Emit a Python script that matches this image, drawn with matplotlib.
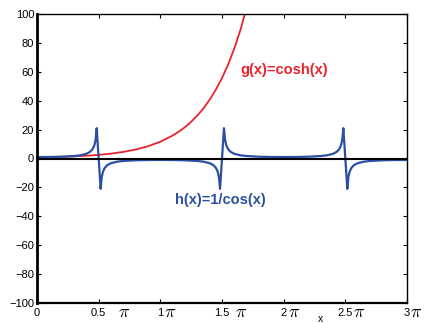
import matplotlib
matplotlib.use('Agg')
import matplotlib.pyplot as plt
import numpy as np

plt.rcParams['font.family'] = ['Liberation Sans', 'DejaVu Sans']
plt.rcParams['mathtext.fontset'] = 'cm'

# x positions in units of pi
h_x = [0, 0.1, 0.2, 0.3, 0.35, 0.4, 0.43, 0.45, 0.465, 0.475, 0.484,
       0.516, 0.525, 0.535, 0.55, 0.57, 0.6, 0.65, 0.7, 0.8, 0.9, 1.0,
       1.1, 1.2, 1.3, 1.35, 1.4, 1.43, 1.45, 1.465, 1.475, 1.484,
       1.516, 1.525, 1.535, 1.55, 1.57, 1.6, 1.65, 1.7, 1.8, 1.9, 2.0,
       2.1, 2.2, 2.3, 2.35, 2.4, 2.43, 2.45, 2.465, 2.475, 2.484,
       2.516, 2.525, 2.535, 2.55, 2.57, 2.6, 2.65, 2.7, 2.8, 2.9, 3.0]
h_y = [1, 1.05, 1.24, 1.7, 2.2, 3.24, 4.6, 6.4, 9.1, 12.8, 21,
       -21, -12.8, -9.1, -6.4, -4.6, -3.24, -2.2, -1.7, -1.24, -1.05, -1,
       -1.05, -1.24, -1.7, -2.2, -3.24, -4.6, -6.4, -9.1, -12.8, -21,
       21, 12.8, 9.1, 6.4, 4.6, 3.24, 2.2, 1.7, 1.24, 1.05, 1,
       1.05, 1.24, 1.7, 2.2, 3.24, 4.6, 6.4, 9.1, 12.8, 21,
       -21, -12.8, -9.1, -6.4, -4.6, -3.24, -2.2, -1.7, -1.24, -1.05, -1]

g_x = [0, 0.1, 0.2, 0.3, 0.4, 0.5, 0.6, 0.7, 0.8, 0.9, 1.0, 1.1, 1.15,
       1.2, 1.25, 1.3, 1.35, 1.4, 1.45, 1.5, 1.55, 1.6, 1.65, 1.7]
g_y = [1, 1.05, 1.2, 1.48, 1.9, 2.51, 3.37, 4.57, 6.21, 8.47, 11.6, 15.9, 18.6,
       21.7, 25.4, 29.7, 34.7, 40.7, 47.6, 55.7, 65.1, 76.2, 89.2, 104.4]

tick_vals = [0, 0.5, 1, 1.5, 2, 2.5, 3]
tick_nums = ['0', '0.5', '1', '1.5', '2', '2.5', '3']
pi_gap = [None, 18, 3, 12, 3, 7, 2]  # pixels from tick to the pi sign

red = '#e8242c'
blue = '#2b4fa3'

fig = plt.figure(figsize=(4.24, 3.23), dpi=100)
ax = fig.add_axes([37 / 424, 1 - 303 / 323, 370 / 424, 289 / 323])

ax.plot(np.array(g_x) * np.pi, g_y, color=red, lw=1.3)
ax.plot(np.array(h_x) * np.pi, h_y, color=blue, lw=1.6)
ax.axhline(0, color='black', lw=1.5)

ax.set_xlim(0, 3 * np.pi)
ax.set_ylim(-100, 100)
ax.set_yticks(range(-100, 101, 20))
ax.set_xticks(np.array(tick_vals) * np.pi)
ax.set_xticklabels([''] * len(tick_vals))
ax.tick_params(direction='in', top=True, right=True, labelsize=8, length=3, pad=2)
for s in ax.spines.values():
    s.set_linewidth(1.0)
ax.spines['left'].set_linewidth(2.0)
ax.spines['bottom'].set_linewidth(1.6)

# x tick labels: number plus a larger pi sign
for v, n, gap in zip(tick_vals, tick_nums, pi_gap):
    xpix = 37 + v / 3 * 370
    fig.text(xpix / 424, 1 - 316 / 323, n, ha='center', va='baseline', fontsize=8)
    if gap is not None:
        fig.text((xpix + gap + 1) / 424, 1 - 317 / 323, r'$\pi$',
                 ha='left', va='baseline', fontsize=13)

fig.text(320 / 424, 1 - 321.5 / 323, 'x', ha='center', va='baseline', fontsize=7.5)

ax.text(1.646 * np.pi, 61, 'g(x)=cosh(x)', color=red, fontsize=10.5,
        fontweight='bold', va='center', ha='left')
ax.text(1.119 * np.pi, -28.5, 'h(x)=1/cos(x)', color=blue, fontsize=10.5,
        fontweight='bold', va='center', ha='left')

fig.savefig('out.png', dpi=100)
